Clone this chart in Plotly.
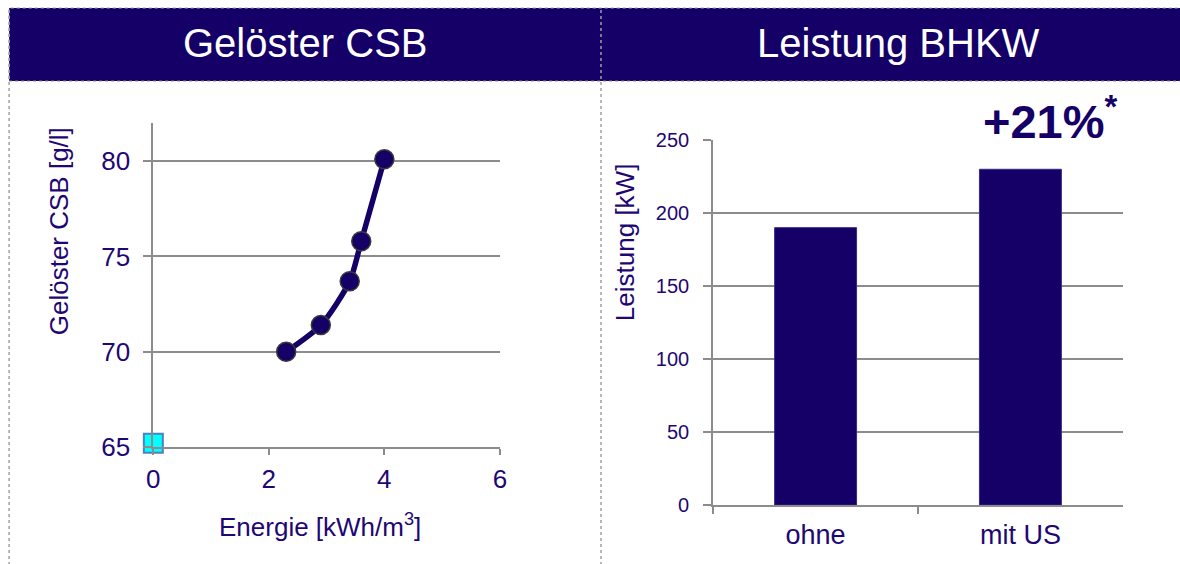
import plotly.graph_objects as go

# --- data ---
energie = [2.3, 2.9, 3.4, 3.6, 4.0]          # kWh/m³
csb_geloest = [70.0, 71.4, 73.7, 75.8, 80.1]  # g/l
ref_energie = [0]
ref_csb = [65.2]

kategorien = ["ohne", "mit US"]
leistung = [190, 230]                          # kW
zuwachs_text = "+21%"

x_ticks_left = [0, 2, 4, 6]
y_ticks_left = [65, 70, 75, 80]
y_ticks_right = [0, 50, 100, 150, 200, 250]

# --- page geometry ---
# Positions below are given in screen pixels; the page is shown with the
# browser's 8px body margin and a slightly non-square viewport scaling.
FIG_W, FIG_H = 1180, 572
BODY_MARGIN = 8
SX = 1180 / 1196
SY = 0.9545
OY = 2.3


def px(x):
    """screen column -> paper x"""
    return (x / SX - BODY_MARGIN) / FIG_W


def py(y):
    """screen row -> paper y"""
    return 1 - ((y - OY) / SY - BODY_MARGIN) / FIG_H


# --- styling ---
NAVY = "#140066"
TEXT = "#1E0773"
GRID = "#8C8C8C"
FONT = "Liberation Sans, Arial, sans-serif"

fig = go.Figure()

# left panel: dissolved COD vs. energy input
fig.add_trace(go.Scatter(
    x=energie, y=csb_geloest, mode="lines+markers",
    line=dict(color=NAVY, width=5.5, shape="spline", smoothing=0.7),
    marker=dict(size=19, color=NAVY, line=dict(color="#3A3A3A", width=1.5)),
    xaxis="x", yaxis="y", showlegend=False, cliponaxis=False,
))
fig.add_trace(go.Scatter(
    x=ref_energie, y=ref_csb, mode="markers",
    marker=dict(symbol="square", size=19, color="#00FFFF",
                line=dict(color="#4F81BD", width=2)),
    xaxis="x", yaxis="y", showlegend=False, cliponaxis=False,
))

# right panel: CHP power output
fig.add_trace(go.Bar(
    x=kategorien, y=leistung, width=0.4,
    marker=dict(color=NAVY, line=dict(color="#3A2A80", width=1)),
    xaxis="x2", yaxis="y2", showlegend=False,
))

axis_common = dict(
    showline=True, linecolor=GRID, linewidth=2,
    ticks="outside", tickcolor=GRID, tickwidth=2,
    zeroline=False, fixedrange=True,
)

fig.update_layout(
    width=FIG_W, height=FIG_H,
    margin=dict(l=0, r=0, t=0, b=0),
    paper_bgcolor="white", plot_bgcolor="white",
    font=dict(family=FONT, color=TEXT),
    xaxis=dict(
        domain=[px(154), px(500)], range=[0, 6], tickvals=x_ticks_left,
        showgrid=False, ticklen=6, ticklabelstandoff=2,
        tickfont=dict(size=26, family=FONT, color=TEXT),
        anchor="y", **axis_common,
    ),
    yaxis=dict(
        domain=[py(446), py(122)], range=[65, 82], tickvals=y_ticks_left,
        showgrid=True, gridcolor=GRID, gridwidth=2, ticklen=8,
        ticklabelstandoff=8,
        tickfont=dict(size=26, family=FONT, color=TEXT),
        anchor="x", **axis_common,
    ),
    xaxis2=dict(
        domain=[px(713), px(1122)], type="category", tickson="boundaries",
        showgrid=False, ticklen=7, ticklabelstandoff=5,
        tickfont=dict(size=27, family=FONT, color=TEXT),
        anchor="y2", **axis_common,
    ),
    yaxis2=dict(
        domain=[py(504), py(139)], range=[0, 250], tickvals=y_ticks_right,
        showgrid=True, gridcolor=GRID, gridwidth=2, ticklen=8,
        ticklabelstandoff=10,
        tickfont=dict(size=20, family=FONT, color=TEXT),
        anchor="x2", **axis_common,
    ),
)

# header band and panel separators
shapes = [
    dict(type="rect", xref="paper", yref="paper",
         x0=px(10), x1=px(1180), y0=py(80), y1=py(7),
         fillcolor=NAVY, line=dict(color="#9A9A9A", width=1, dash="dot"),
         layer="below"),
    dict(type="line", xref="paper", yref="paper",
         x0=px(10), x1=px(10), y0=py(564), y1=py(7),
         line=dict(color="#A0A0A0", width=1.5, dash="dot")),
    dict(type="line", xref="paper", yref="paper",
         x0=px(601), x1=px(601), y0=py(564), y1=py(7),
         line=dict(color="#A0A0A0", width=1.5, dash="dot")),
]
fig.update_layout(shapes=shapes)

annotations = [
    dict(text="Gelöster CSB", x=px(306), y=py(42), xref="paper", yref="paper",
         showarrow=False, xanchor="center", yanchor="middle",
         font=dict(size=40, color="white", family=FONT)),
    dict(text="Leistung BHKW", x=px(898), y=py(42), xref="paper", yref="paper",
         showarrow=False, xanchor="center", yanchor="middle",
         font=dict(size=40, color="white", family=FONT)),
    dict(text="Gelöster CSB [g/l]", x=px(60), y=py(230), xref="paper",
         yref="paper", textangle=-90, showarrow=False,
         xanchor="center", yanchor="middle",
         font=dict(size=26, color=TEXT, family=FONT)),
    dict(text="Energie [kWh/m<sup>3</sup>]", x=px(320), y=py(524),
         xref="paper", yref="paper", showarrow=False,
         xanchor="center", yanchor="middle",
         font=dict(size=26, color=TEXT, family=FONT)),
    dict(text="Leistung [kW]", x=px(625), y=py(241), xref="paper",
         yref="paper", textangle=-90, showarrow=False,
         xanchor="center", yanchor="middle",
         font=dict(size=26, color=TEXT, family=FONT)),
    dict(text="<b>" + zuwachs_text + "<sup>*</sup></b>", x=px(1119), y=py(117),
         xref="paper", yref="paper", showarrow=False,
         xanchor="right", yanchor="middle",
         font=dict(size=47, color=NAVY, family=FONT)),
]
fig.update_layout(annotations=annotations)

fig.write_html("out.html")
